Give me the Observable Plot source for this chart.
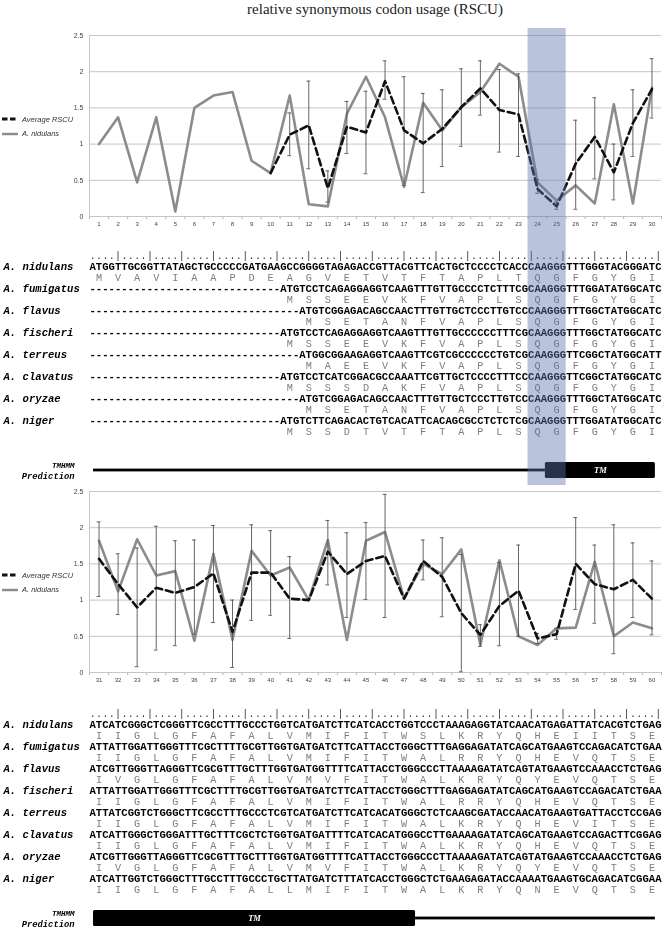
<!DOCTYPE html>
<html><head><meta charset="utf-8">
<script src="https://cdn.jsdelivr.net/npm/d3@7"></script>
<script src="https://cdn.jsdelivr.net/npm/@observablehq/plot@0.6"></script>
<style>
body{margin:0;background:#fff}
#fig{position:relative;width:662px;height:940px;overflow:hidden;background:#fff}
#fig svg{will-change:transform}
#fig svg.mono{filter:grayscale(1)}
.title{position:absolute;left:89px;width:572px;top:0;text-align:center;font:15px/18px "Liberation Serif","Times New Roman",serif;color:#222}
.legend{position:absolute;left:2px;font:italic 7.5px "Liberation Sans",Arial,sans-serif;color:#333;will-change:transform}
.legend div{display:flex;align-items:center;height:14.5px}
.legend svg{margin-right:4px}
</style></head>
<body><div id="fig"></div>
<script>
// ---------------- data ----------------
const titleText = "relative synonymous codon usage (RSCU)";
const yTicks = [0, 0.5, 1, 1.5, 2, 2.5];

const codons1 = [1,2,3,4,5,6,7,8,9,10,11,12,13,14,15,16,17,18,19,20,21,22,23,24,25,26,27,28,29,30];
const nidulans1 = [1.00,1.37,0.47,1.37,0.07,1.50,1.67,1.72,0.77,0.60,1.67,0.17,0.14,1.42,1.93,1.37,0.41,1.57,1.19,1.51,1.72,2.11,1.93,0.47,0.22,0.43,0.18,1.55,0.18,1.78];
const average1 = [null,null,null,null,null,null,null,null,null,0.60,1.13,1.26,0.39,1.24,1.16,1.87,1.19,1.01,1.21,1.51,1.77,1.47,1.41,0.38,0.14,0.73,1.10,0.61,1.29,1.76];
const errLow1  = [null,null,null,null,null,null,null,null,null,null,0.84,0.66,0.20,0.87,0.59,1.62,0.43,0.33,0.69,0.97,1.40,0.89,0.83,0.32,0.10,0.10,0.52,0.23,0.83,1.36];
const errHigh1 = [null,null,null,null,null,null,null,null,null,null,1.43,1.87,0.63,1.59,1.73,2.15,1.93,1.70,1.75,2.04,2.15,2.03,1.97,0.51,0.20,1.33,1.64,1.00,1.75,2.18];

const codons2 = [31,32,33,34,35,36,37,38,39,40,41,42,43,44,45,46,47,48,49,50,51,52,53,54,55,56,57,58,59,60];
const nidulans2 = [1.82,1.12,1.84,1.34,1.40,0.44,1.64,0.45,1.68,1.34,1.45,1.00,1.83,0.45,1.82,1.94,1.02,1.50,1.36,1.70,0.38,1.55,0.50,0.38,0.61,0.62,1.53,0.50,0.69,0.61];
const average2 = [1.57,1.22,0.90,1.17,1.10,1.18,1.37,0.56,1.38,1.38,1.02,1.00,1.67,1.36,1.54,1.61,1.02,1.54,1.32,0.82,0.52,0.92,1.13,0.47,0.53,1.50,1.22,1.15,1.28,1.02];
const errLow2  = [1.05,0.80,0.08,0.31,0.37,0.53,0.69,0.07,0.72,0.79,0.47,null,1.21,0.76,1.01,0.76,null,1.28,0.77,0.01,0.36,0.37,0.50,0.40,0.46,0.87,0.68,0.26,0.76,0.52];
const errHigh2 = [2.08,1.64,1.72,2.02,1.82,1.83,2.03,1.00,2.04,1.96,1.60,null,2.10,1.93,2.07,2.46,null,1.83,1.86,1.63,0.66,1.52,1.76,0.54,0.61,2.14,1.76,2.04,1.79,1.54];

const seriesNames = ["Average RSCU", "A. nidulans"];
const highlightCodons = [24, 25];

const species = ["nidulans","fumigatus","flavus","fischeri","terreus","clavatus","oryzae","niger"];
const rulerText = "....|....|....|....|....|....|....|....|....|....|....|....|....|....|....|....|....|....|";

const dna1 = [
  "ATGGTTGCGGTTATAGCTGCCCCCGATGAAGCCGGGGTAGAGACCGTTACGTTCACTGCTCCCCTCACCCAAGGGTTTGGGTACGGGATC",
  "------------------------------ATGTCCTCAGAGGAGGTCAAGTTTGTTGCCCCTCTTTCGCAAGGGTTTGGATATGGCATC",
  "---------------------------------ATGTCGGAGACAGCCAACTTTGTTGCTCCCTTGTCCCAAGGGTTTGGCTATGGCATC",
  "------------------------------ATGTCCTCAGAGGAGGTCAAGTTTGTTGCCCCCCTTTCGCAAGGGTTTGGCTATGGCATC",
  "---------------------------------ATGGCGGAAGAGGTCAAGTTCGTCGCCCCCCTGTCGCAAGGGTTCGGCTATGGCATT",
  "------------------------------ATGTCCTCATCGGACGCCAAATTCGTTGCTCCCCTTTCCCAAGGGTTCGGCTATGGCATC",
  "---------------------------------ATGTCGGAGACAGCCAACTTTGTTGCTCCCTTGTCCCAAGGGTTTGGCTATGGCATC",
  "------------------------------ATGTCTTCAGACACTGTCACATTCACAGCGCCTCTCTCGCAAGGGTTTGGATATGGCATC"
];
const aa1 = [
  "MVAVIAAPDEAGVETVTFTAPLTQGFGYGI",
  "MSSEEVKFVAPLSQGFGYGI",
  "MSETANFVAPLSQGFGYGI",
  "MSSEEVKFVAPLSQGFGYGI",
  "MAEEVKFVAPLSQGFGYGI",
  "MSSSDAKFVAPLSQGFGYGI",
  "MSETANFVAPLSQGFGYGI",
  "MSSDTVTFTAPLSQGFGYGI"
];
const dna2 = [
  "ATCATCGGGCTCGGGTTCGCCTTTGCCCTGGTCATGATCTTCATCACCTGGTCCCTAAAGAGGTATCAACATGAGATTATCACGTCTGAG",
  "ATTATTGGATTGGGTTTCGCTTTTGCGTTGGTGATGATCTTCATTACCTGGGCTTTGAGGAGATATCAGCATGAAGTCCAGACATCTGAA",
  "ATCGTTGGGTTAGGGTTCGCGTTTGCTTTGGTGATGGTTTTCATTACCTGGGCCCTTAAAAGATATCAGTATGAAGTCCAAACCTCTGAG",
  "ATTATTGGATTGGGTTTCGCTTTTGCGTTGGTGATGATCTTCATTACCTGGGCTTTGAGGAGATATCAGCATGAAGTCCAGACATCTGAA",
  "ATTATCGGTCTGGGCTTCGCCTTTGCCCTCGTCATGATCTTCATCACATGGGCTCTCAAGCGATACCAACATGAAGTGATTACCTCCGAG",
  "ATCATTGGGCTGGGATTTGCTTTCGCTCTGGTGATGATTTTCATCACATGGGCCTTGAAAAGATATCAGCATGAAGTCCAGACTTCGGAG",
  "ATCGTTGGGTTAGGGTTCGCGTTTGCTTTGGTGATGGTTTTCATTACCTGGGCCCTTAAAAGATATCAGTATGAAGTCCAAACCTCTGAG",
  "ATCATTGGTCTGGGCTTTGCCTTTGCCCTGCTTATGATCTTTATCACCTGGGCTCTGAAGAGATACCAAAATGAAGTGCAGACATCGGAA"
];
const aa2 = [
  "IIGLGFAFALVMIFITWSLKRYQHEIITSE",
  "IIGLGFAFALVMIFITWALRRYQHEVQTSE",
  "IVGLGFAFALVMVFITWALKRYQYEVQTSE",
  "IIGLGFAFALVMIFITWALRRYQHEVQTSE",
  "IIGLGFAFALVMIFITWALKRYQHEVITSE",
  "IIGLGFAFALVMIFITWALKRYQHEVQTSE",
  "IVGLGFAFALVMVFITWALKRYQYEVQTSE",
  "IIGLGFAFALLMIFITWALKRYQNEVQTSE"
];
// TMHMM prediction segments, in residue (codon) units
const tmhmm1 = [{type:"out", start:0.71, end:24.41}, {type:"TM", start:24.41, end:30.18}];
const tmhmm2 = [{type:"TM", start:30.71, end:47.6}, {type:"out", start:47.6, end:60.18}];

// ---------------- layout helpers ----------------
const fig = document.getElementById("fig");
const W = 662, ML = 89, MR = 1;
const MONO = "'Liberation Mono','Courier New',monospace";
const SANS = "'Liberation Sans',Arial,sans-serif";
const GRAY = "#8c8c8c";
function place(el, top, cls) {
  el.style.position = "absolute";
  el.style.left = "0px";
  el.style.top = top + "px";
  if (cls) el.classList.add(cls);
  fig.appendChild(el);
  return el;
}

const title = document.createElement("div");
title.className = "title";
title.textContent = titleText;
fig.appendChild(title);

function rscuChart(codons, nid, avg, lo, hi) {
  const rows = codons.map((c, i) => ({codon: c, nid: nid[i], avg: avg[i], lo: lo[i], hi: hi[i]}));
  const errs = rows.filter(d => d.lo != null && d.hi != null);
  const caps = errs.flatMap(d => [{codon: d.codon, v: d.lo}, {codon: d.codon, v: d.hi}]);
  const bounds = [codons[0] - 0.5, ...codons.map(c => c + 0.5)];
  return Plot.plot({
    width: W, height: 215, marginLeft: ML, marginRight: MR, marginTop: 10, marginBottom: 24,
    style: {background: "transparent", color: "#b5b5b5", fontFamily: SANS, fontSize: "7px", overflow: "visible"},
    x: {domain: [bounds[0], bounds[bounds.length - 1]], ticks: bounds, tickFormat: () => "", tickSize: 3, label: null},
    y: {domain: [0, 2.5], axis: null},
    marks: [
      Plot.ruleY(yTicks, {stroke: "#c6c6c6", strokeWidth: 1}),
      Plot.ruleX([bounds[0]], {y1: 0, y2: 2.5, stroke: "#c6c6c6"}),
      Plot.text(yTicks, {y: d => d, text: d => String(d), frameAnchor: "left", dx: -6, textAnchor: "end", fill: "#444", fontSize: 7}),
      Plot.text(codons, {x: d => d, text: d => String(d), frameAnchor: "bottom", dy: 9, fill: "#444", fontSize: 6}),
      Plot.line(rows, {x: "codon", y: "nid", stroke: GRAY, strokeWidth: 2.6}),
      Plot.ruleX(errs, {x: "codon", y1: "lo", y2: "hi", stroke: "#555", strokeWidth: 0.9}),
      Plot.ruleY(caps, {y: "v", x1: d => d.codon - 0.1, x2: d => d.codon + 0.1, stroke: "#555", strokeWidth: 0.9}),
      Plot.line(rows.filter(d => d.avg != null), {x: "codon", y: "avg", stroke: "#111", strokeWidth: 2.6, strokeDasharray: "7,4"})
    ]
  });
}

function legend(top) {
  const div = document.createElement("div");
  div.className = "legend";
  div.style.top = top + "px";
  const styles = [{stroke: "#111", dash: "5.5,2.5", w: 3}, {stroke: GRAY, dash: null, w: 2.5}];
  seriesNames.forEach((name, i) => {
    const row = document.createElement("div");
    const svg = d3.create("svg").attr("width", 16).attr("height", 6);
    svg.append("line").attr("x1", 0).attr("x2", 16).attr("y1", 3).attr("y2", 3)
      .attr("stroke", styles[i].stroke).attr("stroke-width", styles[i].w)
      .attr("stroke-dasharray", styles[i].dash);
    row.appendChild(svg.node());
    const span = document.createElement("span");
    span.textContent = name;
    row.appendChild(span);
    div.appendChild(row);
  });
  fig.appendChild(div);
}

function alignChars(dna, aa, start) {
  const out = [];
  const pos = col => start + (col + 0.5) / 3;
  [...rulerText].forEach((ch, i) => out.push({row: "ruler", x: pos(i), ch, kind: "ruler"}));
  species.forEach((s, k) => {
    const seq = dna[k];
    [...seq].forEach((ch, i) => out.push({row: s + "|dna", x: pos(i), ch, kind: "dna"}));
    const gap = seq.length - seq.replace(/^-+/, "").length;
    [...aa[k]].forEach((ch, j) => out.push({row: s + "|aa", x: pos(gap + j * 3 + 1), ch, kind: "aa"}));
  });
  return out;
}

function alignment(dna, aa, domain) {
  const rowIds = ["ruler"];
  species.forEach(s => rowIds.push(s + "|dna", s + "|aa"));
  const chars = alignChars(dna, aa, domain[0]);
  return Plot.plot({
    width: W, height: 205, marginLeft: ML, marginRight: MR, marginTop: 10, marginBottom: 8.6,
    style: {background: "transparent", overflow: "visible"},
    x: {domain, axis: null},
    y: {type: "point", domain: rowIds, padding: 0, axis: null},
    marks: [
      Plot.text(chars.filter(d => d.kind === "ruler"), {x: "x", y: "row", text: "ch", fontFamily: MONO, fontSize: 10, fill: "#333"}),
      Plot.text(chars.filter(d => d.kind === "dna"), {x: "x", y: "row", text: "ch", fontFamily: MONO, fontWeight: "bold", fontSize: 10.6, fill: "#000"}),
      Plot.text(chars.filter(d => d.kind === "aa"), {x: "x", y: "row", text: "ch", fontFamily: MONO, fontSize: 10.2, fill: "#7d7d7d"}),
      Plot.text(species, {y: s => s + "|dna", text: s => "A. " + s, frameAnchor: "left", dx: -86, textAnchor: "start",
        fontFamily: MONO, fontWeight: "bold", fontStyle: "italic", fontSize: 10.6, fill: "#000"})
    ]
  });
}

function tmTrack(segments, domain) {
  const out = segments.filter(d => d.type === "out");
  const tm = segments.filter(d => d.type === "TM");
  return Plot.plot({
    width: W, height: 20, marginLeft: ML, marginRight: MR, marginTop: 0, marginBottom: 0,
    style: {background: "transparent", overflow: "visible"},
    x: {domain, axis: null},
    y: {domain: ["TMHMM"], padding: 0, axis: null},
    marks: [
      Plot.barX(out, {x1: "start", x2: "end", y: () => "TMHMM", insetTop: 8.6, insetBottom: 8.6, fill: "#000"}),
      Plot.barX(tm, {x1: "start", x2: "end", y: () => "TMHMM", insetTop: 2, insetBottom: 2, fill: "#000", rx: 1.5}),
      Plot.text(tm, {x: d => (d.start + d.end) / 2, y: () => "TMHMM", text: () => "TM", fill: "#fff",
        fontFamily: "'Liberation Serif',serif", fontWeight: "bold", fontStyle: "italic", fontSize: 8.5}),
      Plot.text(["TMHMM"], {text: d => d, frameAnchor: "left", dx: -15, dy: -5, textAnchor: "end",
        fontFamily: MONO, fontWeight: "bold", fontStyle: "italic", fontSize: 7.5, fill: "#000"}),
      Plot.text(["Prediction"], {text: d => d, frameAnchor: "left", dx: -15, dy: 6, textAnchor: "end",
        fontFamily: MONO, fontWeight: "bold", fontStyle: "italic", fontSize: 8.8, fill: "#000"})
    ]
  });
}

// ---------------- build ----------------
const dom1 = [codons1[0] - 0.5, codons1[codons1.length - 1] + 0.5];
const dom2 = [codons2[0] - 0.5, codons2[codons2.length - 1] + 0.5];

place(rscuChart(codons1, nidulans1, average1, errLow1, errHigh1), 25, "mono");
legend(112);
place(alignment(dna1, aa1, dom1), 240, "mono");
place(tmTrack(tmhmm1, dom1), 460, "mono");

place(rscuChart(codons2, nidulans2, average2, errLow2, errHigh2), 481, "mono");
legend(568);
place(alignment(dna2, aa2, dom2), 698, "mono");
place(tmTrack(tmhmm2, dom2), 908, "mono");

// highlight band over codons 24-25 (chart + alignment), drawn on top
const hl = [{start: d3.min(highlightCodons), end: d3.max(highlightCodons)}];
place(Plot.plot({
  width: W, height: 485, marginLeft: ML, marginRight: MR, marginTop: 28, marginBottom: 0,
  style: {background: "transparent", pointerEvents: "none"},
  x: {domain: dom1, axis: null},
  marks: [Plot.rect(hl, {x1: d => d.start - 0.5, x2: d => d.end + 0.5, fill: "rgb(93,116,174)", fillOpacity: 0.43})]
}), 0);
</script>
</body></html>
